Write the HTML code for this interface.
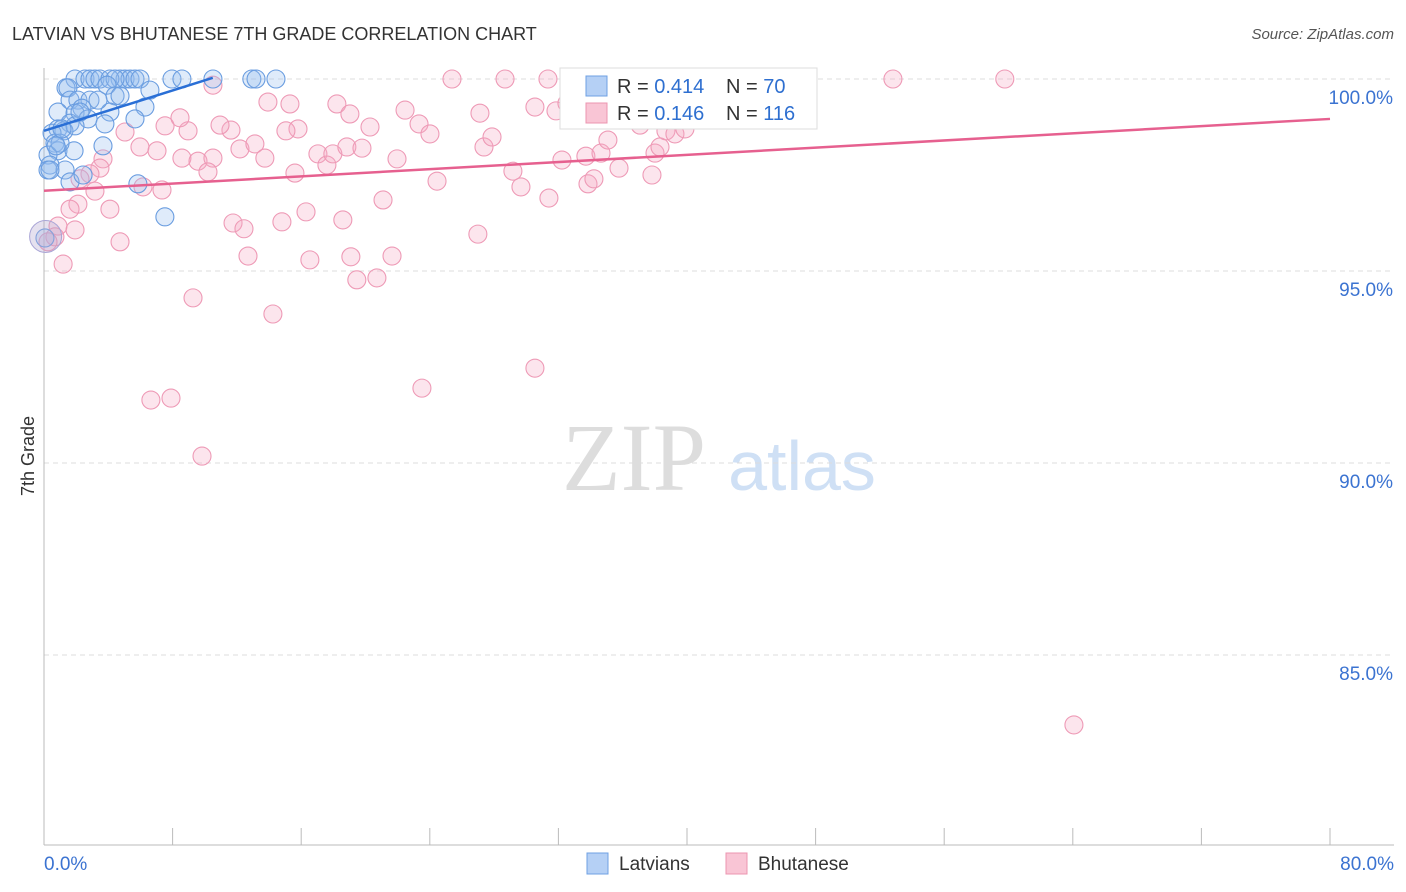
<!DOCTYPE html>
<html><head><meta charset="utf-8">
<style>
body{margin:0;background:#fff;width:1406px;height:892px;overflow:hidden;font-family:"Liberation Sans",sans-serif}
svg{position:absolute;left:0;top:0}
</style></head>
<body>
<svg width="1406" height="892" id="chart">
<text x="12" y="40" font-size="18" fill="#333">LATVIAN VS BHUTANESE 7TH GRADE CORRELATION CHART</text>
<text x="1394" y="39" font-size="15" fill="#555" font-style="italic" text-anchor="end">Source: ZipAtlas.com</text>
<text x="634" y="490" font-size="96" fill="#ddd" font-family="Liberation Serif,serif" text-anchor="middle">ZIP</text>
<text x="802" y="490" font-size="70" fill="#cfe0f5" text-anchor="middle">atlas</text>
<text transform="translate(34,456) rotate(-90)" font-size="18" fill="#333" text-anchor="middle">7th Grade</text>
<g id="grid"></g><g id="marks"></g>
<g>
<rect x="560" y="68" width="257" height="61" fill="#fff" stroke="#ddd"/>
<rect x="586" y="76" width="21" height="20" fill="#b5d0f5" stroke="#6fa0e3"/>
<rect x="586" y="103" width="21" height="20" fill="#f9c5d5" stroke="#ec95b0"/>
<text x="617" y="93" font-size="20" fill="#333">R = <tspan fill="#2e6fd0">0.414</tspan></text>
<text x="726" y="93" font-size="20" fill="#333">N = <tspan fill="#2e6fd0">70</tspan></text>
<text x="617" y="120" font-size="20" fill="#333">R = <tspan fill="#2e6fd0">0.146</tspan></text>
<text x="726" y="120" font-size="20" fill="#333">N = <tspan fill="#2e6fd0">116</tspan></text>
</g>
<g>
<rect x="587" y="853" width="21" height="21" fill="#b5d0f5" stroke="#6fa0e3"/>
<text x="619" y="870" font-size="19" fill="#333">Latvians</text>
<rect x="726" y="853" width="21" height="21" fill="#f9c5d5" stroke="#ec95b0"/>
<text x="758" y="870" font-size="19" fill="#333">Bhutanese</text>
</g>
</svg>
<script>
const yTicks=[100,95,90,85];
const xTickLabels=["0.0%","80.0%"];
const blueX=[1.93,2.55,2.86,3.17,3.48,4.73,5.04,5.35,5.66,5.97,7.96,8.58,10.51,12.93,13.19,14.43,4.10,4.42,1.37,1.49,3.92,6.59,4.42,1.62,2.11,2.86,4.73,2.36,6.28,0.87,1.93,4.10,2.74,1.62,3.79,5.66,0.87,1.24,0.50,0.68,0.87,0.25,1.87,3.67,0.37,0.25,1.31,1.62,2.43,5.84,7.52,0.06,1.00,1.93,3.36,2.24,1.12,0.75,0.37];
const blueY=[100,100,100,100,100,100,100,100,100,100,100,100,100,100,100,100,100,100,99.77,99.77,99.84,99.71,99.56,99.45,99.45,99.45,99.56,99.24,99.27,99.14,99.11,99.14,98.96,98.85,98.83,98.96,98.70,98.65,98.59,98.33,98.13,98.02,98.13,98.26,97.76,97.63,97.63,97.32,97.50,97.27,96.41,95.86,98.33,98.78,99.45,99.14,98.70,98.26,97.63];
const pinkX=[10.51,25.38,28.68,31.35,52.81,59.77,45.16,13.93,15.30,18.22,19.03,22.46,23.33,24.01,20.28,15.80,15.05,11.63,10.95,8.96,7.53,5.04,5.97,7.03,8.58,9.58,10.51,10.20,12.19,13.12,13.74,15.61,17.04,17.60,17.97,18.84,19.78,21.96,24.45,27.12,27.37,27.87,29.17,29.67,31.41,32.22,33.71,33.84,34.21,34.65,35.08,35.77,37.08,37.82,38.01,38.32,38.69,39.25,31.85,32.53,30.54,3.67,3.48,2.86,2.24,3.17,4.10,2.11,1.62,0.87,0.68,0.25,1.93,4.73,6.16,7.34,11.76,12.44,14.80,16.30,18.59,12.69,16.54,19.09,19.46,20.71,21.65,21.09,26.99,9.27,14.24,23.51,30.54,6.65,7.90,9.83,64.07,1.19,43.60,36.45,39.87,8.46];
const pinkY=[99.84,100,100,100,100,100,100,99.40,99.35,99.35,99.09,99.19,98.83,98.57,98.75,98.70,98.65,98.67,98.80,98.65,98.78,98.62,98.23,98.13,97.94,97.86,97.94,97.58,98.18,98.31,97.94,97.55,98.05,97.76,98.05,98.23,98.20,97.92,97.34,99.11,98.23,98.49,97.60,97.19,96.90,97.89,97.99,97.27,97.40,98.07,98.41,97.68,98.80,97.50,98.07,98.23,98.65,98.57,99.17,99.37,99.27,97.92,97.68,97.53,97.40,97.08,96.61,96.74,96.61,96.17,95.89,95.76,96.07,95.76,97.19,97.11,96.25,96.10,96.28,96.54,96.33,95.39,95.29,95.37,94.77,94.82,95.39,96.85,95.96,94.30,93.88,91.95,92.47,91.64,91.69,90.18,83.18,95.18,100,98.96,98.70,98.99];
const blueTrend=[[0,98.65],[10.5,100.03]];
const pinkTrend=[[0,97.09],[80,98.96]];
const X=v=>44+v/80*1286, Y=v=>79+(100-v)*38.4;
const NS='http://www.w3.org/2000/svg';
const grid=document.getElementById('grid'), marks=document.getElementById('marks');
function mk(tag,attrs,parent){const e=document.createElementNS(NS,tag);for(const k in attrs)e.setAttribute(k,attrs[k]);parent.appendChild(e);return e;}
yTicks.forEach(t=>{
 const l=mk('line',{x1:44,x2:1394,y1:Y(t),y2:Y(t),stroke:'#ddd','stroke-dasharray':'5,4'},grid);
 
 
 const tx=mk('text',{x:1393,y:Y(t)+25,'font-size':19,fill:'#3b73d1','text-anchor':'end'},grid);
 tx.textContent=t.toFixed(1)+'%';
 
 
});
const ax=mk('line',{x1:44,x2:44,y1:68,y2:845,stroke:'#bbb'},grid);


const bx=mk('line',{x1:44,x2:1394,y1:845,y2:845,stroke:'#bbb'},grid);


for(let i=0;i<=10;i++){const v=i*8;const tk=mk('line',{x1:X(v),x2:X(v),y1:828,y2:845,stroke:'#bbb'},grid);
 
 }
[[0,'start',44],[80,'end',1394]].forEach((d,i)=>{const t=mk('text',{x:d[2],y:870,'font-size':19,fill:'#3b73d1','text-anchor':d[1]},grid);t.textContent=xTickLabels[i];
 
 });
pinkX.forEach((x,i)=>{const c=mk('circle',{cx:X(x),cy:Y(pinkY[i]),r:9,fill:'rgba(246,170,195,0.3)',stroke:'#ee9ab6','stroke-width':1.1},marks);
 
 });
blueX.forEach((x,i)=>{const c=mk('circle',{cx:X(x),cy:Y(blueY[i]),r:9,fill:'rgba(150,190,240,0.3)',stroke:'#6a9de0','stroke-width':1.1},marks);
 
 });
const bt=mk('circle',{cx:X(0.1),cy:Y(95.9),r:16,fill:'rgba(180,170,210,0.35)',stroke:'#a9a5d6'},marks);


const pl=mk('line',{x1:X(pinkTrend[0][0]),y1:Y(pinkTrend[0][1]),x2:X(pinkTrend[1][0]),y2:Y(pinkTrend[1][1]),stroke:'#e6608f','stroke-width':2.5},marks);


const bl=mk('line',{x1:X(blueTrend[0][0]),y1:Y(blueTrend[0][1]),x2:X(blueTrend[1][0]),y2:Y(blueTrend[1][1]),stroke:'#2a6fd6','stroke-width':2.5},marks);


</script>
</body></html>
